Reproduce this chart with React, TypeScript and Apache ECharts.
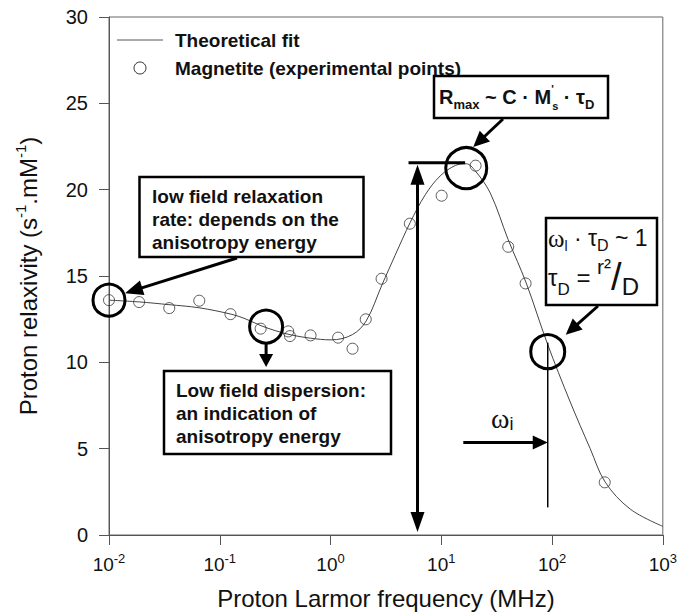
import React, { useEffect, useRef } from "react";
import * as echarts from "echarts";

// ---- data ----
const fitFrequency = [0.01, 0.0187, 0.0348, 0.065, 0.1265, 0.169, 0.236, 0.316, 0.432, 0.655, 1.01, 1.57, 2.1, 2.92, 3.83, 5.24, 7.16, 9.78, 13.4, 16.8, 20.2, 27.7, 40.2, 58.4, 90.5, 146, 221, 302, 508, 1000];
const fitRelaxivity = [13.6, 13.5, 13.34, 13.16, 12.79, 12.53, 12.12, 11.84, 11.6, 11.4, 11.3, 11.6, 12.4, 14.5, 16.2, 18.1, 19.7, 20.8, 21.4, 21.5, 21.1, 19.8, 17.1, 14.6, 11.1, 7.7, 5.0, 3.06, 1.5, 0.5];

const expFrequency = [0.01, 0.0187, 0.035, 0.0653, 0.125, 0.234, 0.415, 0.43, 0.66, 1.17, 1.58, 2.08, 2.89, 5.2, 10.07, 20.4, 40.2, 57.7, 299];
const expRelaxivity = [13.6, 13.49, 13.14, 13.57, 12.79, 11.95, 11.79, 11.52, 11.56, 11.43, 10.79, 12.49, 14.84, 18.03, 19.65, 21.39, 16.69, 14.57, 3.05];

const yTickValues = [0, 5, 10, 15, 20, 25, 30];
const seriesNames = ["Theoretical fit", "Magnetite (experimental points)"];

// annotation anchors in data coordinates [MHz, relaxivity]
const circleLowField = [0.01, 13.6];
const circleDispersion = [0.262, 12.07];
const circlePeak = [16.8, 21.25];
const circleOmega = [91.4, 10.62];
const rmaxArrowX = 6.1;
const rmaxLevel = 21.56;
const rmaxBarFrom = 5.06;
const rmaxBarTo = 16.4;
const omegaLineTop = 11.14;
const omegaLineBottom = 1.6;
const omegaArrowLevel = 5.35;
const omegaArrowFrom = 15.8;

const SANS = "'Liberation Sans', Arial, sans-serif";
const SERIF = "'Liberation Serif', 'Times New Roman', serif";
const INK = "#111";

function arrowParts(x1: number, y1: number, x2: number, y2: number, hl = 16, hw = 14, lw = 3) {
  const dx = x2 - x1, dy = y2 - y1;
  const L = Math.hypot(dx, dy);
  const ux = dx / L, uy = dy / L;
  const bx = x2 - ux * hl, by = y2 - uy * hl;
  const nx = -uy, ny = ux;
  return [
    { type: "line", z: 100, shape: { x1, y1, x2: bx + ux * 2, y2: by + uy * 2 }, style: { stroke: "#000", lineWidth: lw } },
    {
      type: "polygon", z: 100,
      shape: { points: [[x2, y2], [bx + (nx * hw) / 2, by + (ny * hw) / 2], [bx - (nx * hw) / 2, by - (ny * hw) / 2]] },
      style: { fill: "#000" },
    },
  ];
}

export default function App() {
  const ref = useRef<HTMLDivElement>(null);
  useEffect(() => {
    const chart = echarts.init(ref.current!, null, { renderer: "svg" });
    const option: any = {
      animation: false,
      backgroundColor: "#fff",
      grid: { left: 109, right: 17, top: 17, bottom: 79, show: true, borderColor: "#666", borderWidth: 1, backgroundColor: "transparent" },
      xAxis: {
        type: "log", logBase: 10, min: 0.01, max: 1000,
        name: "Proton Larmor frequency (MHz)", nameLocation: "middle", nameGap: 51,
        nameTextStyle: { fontFamily: SANS, fontSize: 24, color: INK },
        axisLine: { lineStyle: { color: "#555", width: 1 } },
        axisTick: { show: true, length: 10, inside: false, lineStyle: { color: "#555" } },
        minorTick: { show: false },
        splitLine: { show: false },
        axisLabel: {
          margin: 17,
          formatter: (v: number) => `{b|10}{s|${Math.round(Math.log10(v))}}`,
          rich: {
            b: { fontFamily: SANS, fontSize: 19, color: INK, lineHeight: 24 },
            s: { fontFamily: SANS, fontSize: 13, color: INK, verticalAlign: "top" },
          },
        },
      },
      yAxis: {
        type: "value", min: 0, max: 30, interval: 5,
        name: "Proton relaxivity (s{sup|-1}.mM{sup|-1})",
        nameLocation: "middle", nameGap: 66, nameRotate: 90,
        nameTextStyle: {
          fontFamily: SANS, fontSize: 24, color: INK, lineHeight: 30,
          rich: { sup: { fontFamily: SANS, fontSize: 15, color: INK, verticalAlign: "top" } },
        },
        axisLine: { show: true, lineStyle: { color: "#555", width: 1 } },
        axisTick: { show: true, length: 10, inside: false, lineStyle: { color: "#555" } },
        splitLine: { show: false },
        axisLabel: {
          margin: 21, fontFamily: SANS, fontSize: 20, color: INK,
          formatter: (v: number) => (yTickValues.includes(v) ? String(v) : ""),
        },
      },
      series: [
        {
          name: seriesNames[0], type: "line", silent: true,
          data: fitFrequency.map((f, i) => [f, fitRelaxivity[i]]),
          smooth: 0.35, symbol: "none", showSymbol: false,
          lineStyle: { color: "#444", width: 1 }, z: 3,
        },
        {
          name: seriesNames[1], type: "scatter", silent: true,
          data: expFrequency.map((f, i) => [f, expRelaxivity[i]]),
          symbol: "circle", symbolSize: 11,
          itemStyle: { color: "rgba(255,255,255,0)", borderColor: "#333", borderWidth: 1 }, z: 4,
        },
      ],
    };
    chart.setOption(option);

    const px = (f: number, v: number) => chart.convertToPixel({ gridIndex: 0 }, [f, v]) as number[];

    const g: any[] = [];
    // legend
    g.push({ type: "line", z: 100, shape: { x1: 117, y1: 40, x2: 163, y2: 40 }, style: { stroke: "#555", lineWidth: 1 } });
    g.push({ type: "circle", z: 100, shape: { cx: 140, cy: 68, r: 6 }, style: { fill: "none", stroke: "#333", lineWidth: 1 } });
    g.push({ type: "text", z: 100, style: { text: seriesNames[0], x: 175, y: 40, verticalAlign: "middle", fontFamily: SANS, fontSize: 19, fontWeight: "bold", fill: INK } });
    g.push({ type: "text", z: 100, style: { text: seriesNames[1], x: 175, y: 68, verticalAlign: "middle", fontFamily: SANS, fontSize: 19, fontWeight: "bold", fill: INK } });

    // highlighted circles
    const bigCircle = (c: number[], r: number) => {
      const p = px(c[0], c[1]);
      g.push({ type: "circle", z: 100, shape: { cx: p[0], cy: p[1], r }, style: { fill: "none", stroke: "#000", lineWidth: 3 } });
      return p;
    };
    const cLow = bigCircle(circleLowField, 16);
    const cDisp = bigCircle(circleDispersion, 16.5);
    const cPeak = bigCircle(circlePeak, 20.5);
    const cOm = bigCircle(circleOmega, 17);

    // box 1
    g.push({ type: "rect", z: 100, shape: { x: 139.5, y: 177, width: 224, height: 80 }, style: { fill: "#fff", stroke: "#000", lineWidth: 2.5 } });
    g.push({ type: "text", z: 101, style: { text: "low field relaxation\nrate: depends on the\nanisotropy energy", x: 152, y: 185, lineHeight: 23, fontFamily: SANS, fontSize: 19, fontWeight: "bold", fill: INK } });
    g.push(...arrowParts(237, 258, cLow[0] + 16, cLow[1] - 7, 18, 15, 3));

    // box 2
    g.push({ type: "rect", z: 100, shape: { x: 164, y: 371, width: 227, height: 83 }, style: { fill: "#fff", stroke: "#000", lineWidth: 2.5 } });
    g.push({ type: "text", z: 101, style: { text: "Low field dispersion:\nan indication of\nanisotropy energy", x: 176, y: 379, lineHeight: 23, fontFamily: SANS, fontSize: 19, fontWeight: "bold", fill: INK } });
    g.push(...arrowParts(cDisp[0], cDisp[1] + 16.5, cDisp[0], 367, 13, 14, 3));

    // R max box
    g.push({ type: "rect", z: 100, shape: { x: 434, y: 76, width: 174, height: 42 }, style: { fill: "#fff", stroke: "#000", lineWidth: 2.5 } });
    g.push({
      type: "text", z: 101,
      style: {
        text: "{b|R}{sm|max}{b| ~ C · M}{pr|'}{ss|s}{b| · τ}{sd|D}",
        x: 439, y: 97, align: "left", verticalAlign: "middle",
        rich: {
          b: { fontFamily: SANS, fontSize: 20, fontWeight: "bold", fill: INK, lineHeight: 28 },
          sm: { fontFamily: SANS, fontSize: 13, fontWeight: "bold", fill: INK, verticalAlign: "bottom" },
          pr: { fontFamily: SANS, fontSize: 11, fontWeight: "bold", fill: INK, verticalAlign: "top", width: 1 },
          ss: { fontFamily: SANS, fontSize: 11, fontWeight: "bold", fill: INK, verticalAlign: "bottom" },
          sd: { fontFamily: SANS, fontSize: 13, fontWeight: "bold", fill: INK, verticalAlign: "bottom" },
        },
      },
    });
    g.push(...arrowParts(503, 119, cPeak[0] + 7, cPeak[1] - 21, 16, 15, 3));

    // vertical double arrow + bar at R max
    const top = px(rmaxArrowX, rmaxLevel);
    const bot = px(rmaxArrowX, 0);
    const barL = px(rmaxBarFrom, rmaxLevel);
    const barR = px(rmaxBarTo, rmaxLevel);
    g.push({ type: "line", z: 100, shape: { x1: barL[0], y1: barL[1], x2: barR[0], y2: barR[1] }, style: { stroke: "#000", lineWidth: 3 } });
    g.push({ type: "line", z: 100, shape: { x1: top[0], y1: top[1] + 18, x2: bot[0], y2: bot[1] - 20 }, style: { stroke: "#000", lineWidth: 3 } });
    g.push(...arrowParts(top[0], top[1] + 30, top[0], top[1] + 2, 20, 14, 3));
    g.push(...arrowParts(bot[0], bot[1] - 30, bot[0], bot[1] - 3, 20, 14, 3));

    // omega box
    g.push({ type: "rect", z: 100, shape: { x: 546, y: 218, width: 111, height: 87 }, style: { fill: "#fff", stroke: "#000", lineWidth: 2.5 } });
    g.push({
      type: "text", z: 101,
      style: {
        text: "{w|ω}{l|l}{b| · τ}{sd|D}{b| ~ 1}",
        x: 548, y: 238, verticalAlign: "middle",
        rich: {
          w: { fontFamily: SERIF, fontSize: 25, fill: INK, lineHeight: 30 },
          l: { fontFamily: SANS, fontSize: 14, fill: INK, verticalAlign: "bottom" },
          b: { fontFamily: SANS, fontSize: 23, fill: INK, lineHeight: 30 },
          sd: { fontFamily: SANS, fontSize: 16, fill: INK, verticalAlign: "bottom" },
        },
      },
    });
    g.push({
      type: "text", z: 101,
      style: {
        text: "{b|τ}{sd|D}{b| = }{num|r²}{sl|/}{den|D}",
        x: 548, y: 277, verticalAlign: "middle",
        rich: {
          b: { fontFamily: SANS, fontSize: 24, fill: INK, lineHeight: 42 },
          sd: { fontFamily: SANS, fontSize: 17, fill: INK, verticalAlign: "bottom", lineHeight: 30 },
          num: { fontFamily: SANS, fontSize: 21, fill: INK, verticalAlign: "top" },
          sl: { fontFamily: SANS, fontSize: 38, fill: INK },
          den: { fontFamily: SANS, fontSize: 24, fill: INK, verticalAlign: "bottom" },
        },
      },
    });
    g.push(...arrowParts(598, 306, cOm[0] + 18, cOm[1] - 17, 16, 15, 3));

    // omega_i line and arrow
    const oTop = px(circleOmega[0], omegaLineTop);
    const oBot = px(circleOmega[0], omegaLineBottom);
    g.push({ type: "line", z: 100, shape: { x1: oTop[0], y1: oTop[1], x2: oBot[0], y2: oBot[1] }, style: { stroke: "#000", lineWidth: 1.5 } });
    const aFrom = px(omegaArrowFrom, omegaArrowLevel);
    const aTo = px(circleOmega[0], omegaArrowLevel);
    g.push(...arrowParts(aFrom[0], aFrom[1], aTo[0], aTo[1], 15, 14, 3));
    g.push({
      type: "text", z: 101,
      style: {
        text: "{w|ω}{i|i}", x: 491, y: 418, verticalAlign: "middle",
        rich: {
          w: { fontFamily: SERIF, fontSize: 28, fill: INK, lineHeight: 30 },
          i: { fontFamily: SANS, fontSize: 18, fill: INK, verticalAlign: "bottom" },
        },
      },
    });

    chart.setOption({ graphic: g });
    return () => chart.dispose();
  }, []);
  return <div ref={ref} style={{ position: "absolute", left: 0, top: 0, width: 680, height: 615 }} />;
}
